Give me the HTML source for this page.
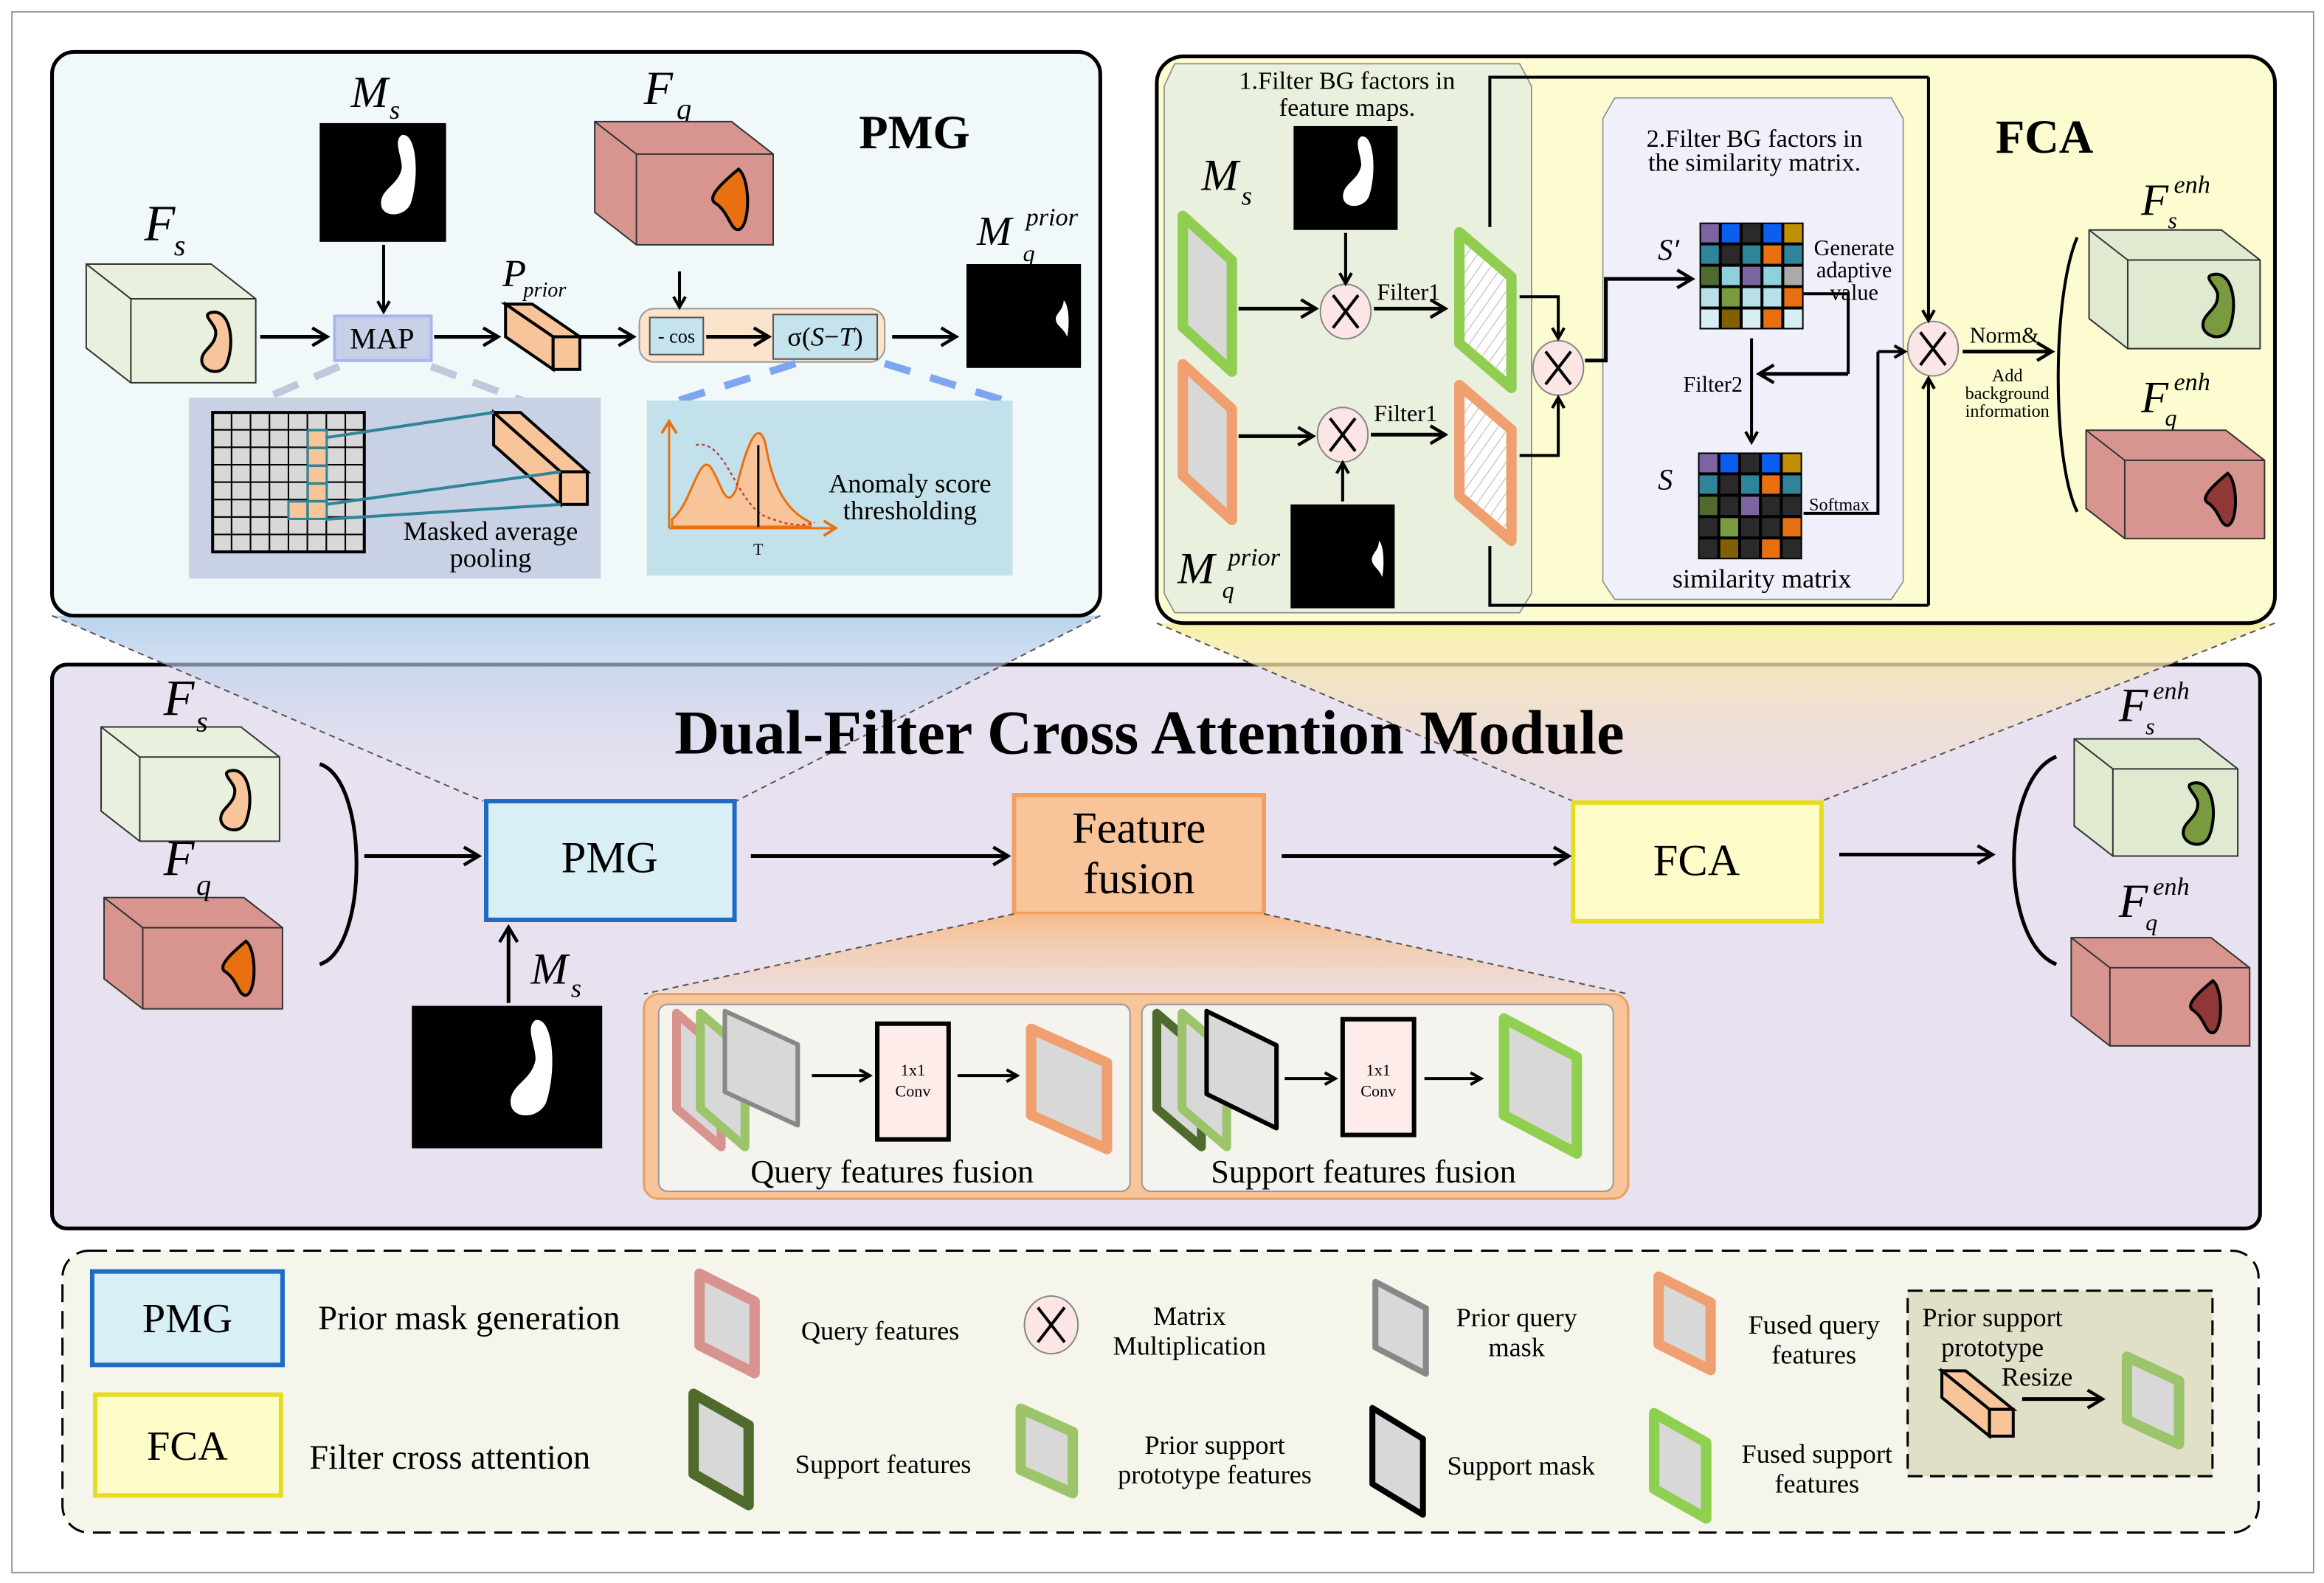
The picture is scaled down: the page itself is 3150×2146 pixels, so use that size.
<!DOCTYPE html>
<html><head><meta charset="utf-8"><style>
html,body{margin:0;padding:0;background:#fff}
svg{display:block}
text{font-family:"Liberation Serif",serif;fill:#000}
.it{font-style:italic}
</style></head><body>
<svg id="s" width="3150" height="2146" viewBox="0 0 1563 1067" preserveAspectRatio="none" xmlns="http://www.w3.org/2000/svg">
<defs>
<marker id="ar" markerWidth="10" markerHeight="10" refX="8" refY="5" orient="auto" markerUnits="userSpaceOnUse"><path d="M1,1 L8,5 L1,9" fill="none" stroke="#000" stroke-width="2"/></marker>
<marker id="arb" markerWidth="14" markerHeight="14" refX="11" refY="7" orient="auto" markerUnits="userSpaceOnUse"><path d="M1,1 L11,7 L1,13" fill="none" stroke="#000" stroke-width="2.2"/></marker>
<marker id="aro" markerWidth="12" markerHeight="12" refX="9" refY="6" orient="auto" markerUnits="userSpaceOnUse"><path d="M1,1 L9,6 L1,11" fill="none" stroke="#e87010" stroke-width="1.8"/></marker>
<pattern id="hatch" width="6" height="6" patternUnits="userSpaceOnUse" patternTransform="rotate(35)"><rect width="6" height="6" fill="#fff"/><line x1="0" y1="0" x2="0" y2="6" stroke="#ccc" stroke-width="1.5"/></pattern>
<linearGradient id="gb" x1="0" y1="0" x2="0" y2="1"><stop offset="0" stop-color="#a8c8e8" stop-opacity="0.8"/><stop offset="1" stop-color="#e8e2f0" stop-opacity="0.2"/></linearGradient>
<linearGradient id="gy" x1="0" y1="0" x2="0" y2="1"><stop offset="0" stop-color="#f8f0a0" stop-opacity="0.9"/><stop offset="1" stop-color="#f0d0d8" stop-opacity="0.3"/></linearGradient>
<linearGradient id="go" x1="0" y1="0" x2="0" y2="1"><stop offset="0" stop-color="#f8b880" stop-opacity="0.9"/><stop offset="1" stop-color="#f8d0b0" stop-opacity="0.3"/></linearGradient>
</defs>
<rect x="8" y="8" width="1548" height="1052" fill="#fff" stroke="#999" stroke-width="1"/>

<rect x="35" y="448" width="1485" height="380" rx="10" fill="#e8e2f0" stroke="#000" stroke-width="2.5"/>
<polygon points="35,415 740,415 495,540 325,540" fill="url(#gb)"/>
<polygon points="778,420 1530,420 1225,540 1058,540" fill="url(#gy)"/>
<line x1="35" y1="415" x2="325" y2="540" stroke="#555" stroke-width="1" stroke-dasharray="4,3"/>
<line x1="740" y1="415" x2="495" y2="540" stroke="#555" stroke-width="1" stroke-dasharray="4,3"/>
<line x1="778" y1="420" x2="1058" y2="540" stroke="#555" stroke-width="1" stroke-dasharray="4,3"/>
<line x1="1530" y1="420" x2="1225" y2="540" stroke="#555" stroke-width="1" stroke-dasharray="4,3"/>

<rect x="35" y="35" width="705" height="380" rx="15" fill="#f0f8fa" stroke="#000" stroke-width="2.5"/>
<rect x="778" y="38" width="752" height="382" rx="18" fill="#fdfbd0" stroke="#000" stroke-width="2.5"/>
<path d="M790,43 L1022,43 L1030,58 L1030,400 L1022,413 L790,413 L783,400 L783,58 Z" fill="#e9f0dd" stroke="#888" stroke-width="0.8"/>
<path d="M1086,66 L1272,66 L1280,80 L1280,392 L1272,404 L1086,404 L1078,392 L1078,80 Z" fill="#f0f0fa" stroke="#888" stroke-width="0.8"/>

<text x="615" y="100" font-size="32" font-weight="bold" text-anchor="middle">PMG</text>
<text x="97" y="162" font-size="34" class="it">F</text><text x="117" y="172" font-size="20" class="it">s</text>
<text x="236" y="72" font-size="30" class="it">M</text><text x="262" y="80" font-size="18" class="it">s</text>
<text x="433" y="70" font-size="32" class="it">F</text><text x="455" y="80" font-size="20" class="it">q</text>
<text x="338" y="193" font-size="26" class="it">P</text><text x="352" y="200" font-size="14" class="it">prior</text>
<text x="657" y="165" font-size="28" class="it">M</text><text x="690" y="152" font-size="17" class="it">prior</text><text x="688" y="176" font-size="16" class="it">q</text>
<rect x="225" y="213" width="65" height="30" fill="#c8d0e8" stroke="#aab4f0" stroke-width="2"/>
<text x="257" y="235" font-size="20" text-anchor="middle">MAP</text>
<rect x="430" y="208" width="165" height="36" rx="10" fill="#fbe3cc" stroke="#999" stroke-width="1"/>
<rect x="437" y="214" width="36" height="25" fill="#c5e3ec" stroke="#555" stroke-width="1"/>
<text x="455" y="231" font-size="13" text-anchor="middle">- cos</text>
<rect x="520" y="212" width="70" height="30" fill="#c5e3ec" stroke="#555" stroke-width="1"/>
<text x="555" y="233" font-size="18" text-anchor="middle">σ(<tspan class="it">S</tspan>−<tspan class="it">T</tspan>)</text>
<line x1="228" y1="247" x2="140" y2="285" stroke="#c0c8dc" stroke-width="5" stroke-dasharray="18,12"/>
<line x1="290" y1="247" x2="378" y2="280" stroke="#c0c8dc" stroke-width="5" stroke-dasharray="18,12"/>
<line x1="535" y1="245" x2="450" y2="272" stroke="#7ea6f0" stroke-width="5" stroke-dasharray="18,14"/>
<line x1="595" y1="245" x2="682" y2="272" stroke="#7ea6f0" stroke-width="5" stroke-dasharray="18,14"/>
<rect x="127" y="268" width="277" height="122" fill="#c9d2e5"/>
<rect x="435" y="270" width="246" height="118" fill="#c3e1ea"/>
<text x="330" y="364" font-size="18" text-anchor="middle">Masked average</text>
<text x="330" y="382" font-size="18" text-anchor="middle">pooling</text>
<text x="612" y="332" font-size="18" text-anchor="middle">Anomaly score</text>
<text x="612" y="350" font-size="18" text-anchor="middle">thresholding</text>
<text x="510" y="374" font-size="11" text-anchor="middle">T</text>

<text x="1375" y="103" font-size="32" font-weight="bold" text-anchor="middle">FCA</text>
<text x="906" y="60" font-size="17" text-anchor="middle">1.Filter BG factors in</text>
<text x="906" y="78" font-size="17" text-anchor="middle">feature maps.</text>
<text x="1180" y="99" font-size="17" text-anchor="middle">2.Filter BG factors in</text>
<text x="1180" y="115" font-size="17" text-anchor="middle">the similarity matrix.</text>
<text x="808" y="128" font-size="30" class="it">M</text><text x="835" y="138" font-size="18" class="it">s</text>
<text x="792" y="393" font-size="30" class="it">M</text><text x="826" y="381" font-size="17" class="it">prior</text><text x="822" y="403" font-size="16" class="it">q</text>
<text x="926" y="202" font-size="16">Filter1</text>
<text x="924" y="284" font-size="16">Filter1</text>
<text x="1115" y="175" font-size="20" class="it">S′</text>
<text x="1115" y="330" font-size="20" class="it">S</text>
<text x="1247" y="172" font-size="15" text-anchor="middle">Generate</text>
<text x="1247" y="187" font-size="15" text-anchor="middle">adaptive</text>
<text x="1247" y="202" font-size="15" text-anchor="middle">value</text>
<text x="1152" y="264" font-size="15" text-anchor="middle">Filter2</text>
<text x="1237" y="344" font-size="12" text-anchor="middle">Softmax</text>
<text x="1185" y="396" font-size="18" text-anchor="middle">similarity matrix</text>
<text x="1348" y="231" font-size="15" text-anchor="middle">Norm&amp;</text>
<text x="1350" y="257" font-size="12" text-anchor="middle">Add</text>
<text x="1350" y="269" font-size="12" text-anchor="middle">background</text>
<text x="1350" y="281" font-size="12" text-anchor="middle">information</text>
<text x="1440" y="145" font-size="30" class="it">F</text><text x="1462" y="130" font-size="17" class="it">enh</text><text x="1458" y="154" font-size="16" class="it">s</text>
<text x="1440" y="278" font-size="30" class="it">F</text><text x="1462" y="263" font-size="17" class="it">enh</text><text x="1456" y="287" font-size="16" class="it">q</text>

<text x="773" y="508" font-size="42" font-weight="bold" text-anchor="middle">Dual-Filter Cross Attention Module</text>
<rect x="327" y="540" width="167" height="80" fill="#d8eff5" stroke="#1e6bc4" stroke-width="3"/>
<text x="410" y="588" font-size="30" text-anchor="middle">PMG</text>
<text x="357" y="663" font-size="30" class="it">M</text><text x="384" y="672" font-size="18" class="it">s</text>
<rect x="682" y="536" width="168" height="80" fill="#f8c49a" stroke="#f0a060" stroke-width="3"/>
<text x="766" y="568" font-size="30" text-anchor="middle">Feature</text>
<text x="766" y="602" font-size="30" text-anchor="middle">fusion</text>
<rect x="1058" y="541" width="167" height="80" fill="#fefcc8" stroke="#e8dc20" stroke-width="3"/>
<text x="1141" y="590" font-size="30" text-anchor="middle">FCA</text>
<polygon points="682,616 850,616 1095,670 433,670" fill="url(#go)"/>
<line x1="682" y1="616" x2="433" y2="670" stroke="#555" stroke-width="1" stroke-dasharray="4,3"/>
<line x1="850" y1="616" x2="1095" y2="670" stroke="#555" stroke-width="1" stroke-dasharray="4,3"/>
<rect x="433" y="670" width="662" height="138" rx="10" fill="#f8c49a" stroke="#e8a060" stroke-width="1.5"/>
<rect x="443" y="677" width="317" height="126" rx="6" fill="#f5f3ee" stroke="#999" stroke-width="1"/>
<rect x="768" y="677" width="317" height="126" rx="6" fill="#f5f3ee" stroke="#999" stroke-width="1"/>
<text x="600" y="797" font-size="22" text-anchor="middle">Query features fusion</text>
<text x="917" y="797" font-size="22" text-anchor="middle">Support features fusion</text>
<rect x="590" y="690" width="48" height="78" fill="#fdecea" stroke="#000" stroke-width="3"/>
<text x="614" y="725" font-size="11" text-anchor="middle">1x1</text><text x="614" y="739" font-size="11" text-anchor="middle">Conv</text>
<rect x="903" y="687" width="48" height="78" fill="#fdecea" stroke="#000" stroke-width="3"/>
<text x="927" y="725" font-size="11" text-anchor="middle">1x1</text><text x="927" y="739" font-size="11" text-anchor="middle">Conv</text>

<rect x="42" y="843" width="1477" height="190" rx="18" fill="#f5f5ec" stroke="#000" stroke-width="1.5" stroke-dasharray="12,6"/>
<rect x="62" y="857" width="128" height="63" fill="#d8eff5" stroke="#1e6bc4" stroke-width="3"/>
<text x="126" y="898" font-size="28" text-anchor="middle">PMG</text>
<text x="214" y="896" font-size="23">Prior mask generation</text>
<rect x="64" y="940" width="125" height="68" fill="#fefcc8" stroke="#e8dc20" stroke-width="3"/>
<text x="126" y="984" font-size="28" text-anchor="middle">FCA</text>
<text x="208" y="990" font-size="23">Filter cross attention</text>
<text x="592" y="903" font-size="18" text-anchor="middle">Query features</text>
<text x="594" y="993" font-size="18" text-anchor="middle">Support features</text>
<text x="800" y="893" font-size="18" text-anchor="middle">Matrix</text>
<text x="800" y="913" font-size="18" text-anchor="middle">Multiplication</text>
<text x="817" y="980" font-size="18" text-anchor="middle">Prior support</text>
<text x="817" y="1000" font-size="18" text-anchor="middle">prototype features</text>
<text x="1020" y="894" font-size="18" text-anchor="middle">Prior query</text>
<text x="1020" y="914" font-size="18" text-anchor="middle">mask</text>
<text x="1023" y="994" font-size="18" text-anchor="middle">Support mask</text>
<text x="1220" y="899" font-size="18" text-anchor="middle">Fused query</text>
<text x="1220" y="919" font-size="18" text-anchor="middle">features</text>
<text x="1222" y="986" font-size="18" text-anchor="middle">Fused support</text>
<text x="1222" y="1006" font-size="18" text-anchor="middle">features</text>
<rect x="1283" y="870" width="205" height="125" fill="#e0e0c8" stroke="#000" stroke-width="1.5" stroke-dasharray="10,5"/>
<text x="1340" y="894" font-size="18" text-anchor="middle">Prior support</text>
<text x="1340" y="914" font-size="18" text-anchor="middle">prototype</text>
<text x="1370" y="934" font-size="18" text-anchor="middle">Resize</text>
<g id="dyn"></g>
<!-- main panel labels on top -->
<text x="110" y="482" font-size="34" class="it">F</text><text x="132" y="493" font-size="20" class="it">s</text>
<text x="110" y="590" font-size="34" class="it">F</text><text x="132" y="603" font-size="20" class="it">q</text>
<text x="1425" y="486" font-size="32" class="it">F</text><text x="1448" y="471" font-size="17" class="it">enh</text><text x="1443" y="495" font-size="16" class="it">s</text>
<text x="1425" y="618" font-size="32" class="it">F</text><text x="1448" y="603" font-size="17" class="it">enh</text><text x="1443" y="627" font-size="16" class="it">q</text>
</svg>
<script>
const NS="http://www.w3.org/2000/svg",G=document.getElementById('dyn');
function el(t,a){const e=document.createElementNS(NS,t);for(const k in a)e.setAttribute(k,a[k]);G.appendChild(e);return e;}
function arrow(pts,big){return el('polyline',{points:pts,fill:'none',stroke:'#000','stroke-width':big?2.5:2,'marker-end':big?'url(#arb)':'url(#ar)'});}
function line(pts,w){return el('polyline',{points:pts,fill:'none',stroke:'#000','stroke-width':w||2});}
function cube(x,y,w,h,d,fill,blob,bfill){const dy=d*0.78;
 el('polygon',{points:`${x},${y} ${x+w-d},${y} ${x+w},${y+dy} ${x+w},${y+h} ${x+d},${y+h} ${x},${y+h-dy}`,fill:fill,stroke:'#333','stroke-width':1});
 el('polyline',{points:`${x},${y} ${x+d},${y+dy} ${x+w},${y+dy}`,fill:'none',stroke:'#333','stroke-width':1});
 el('line',{x1:x+d,y1:y+dy,x2:x+d,y2:y+h,stroke:'#333','stroke-width':1});
 const cx=x+d+(w-d)*0.68,cy=y+dy+(h-dy)*0.5,s=(h-dy)/60;
 if(blob==='bean')el('path',{d:`M${cx-4*s},${cy-20*s} C${cx+10*s},${cy-24*s} ${cx+14*s},${cy} ${cx+8*s},${cy+16*s} C${cx+4*s},${cy+26*s} ${cx-10*s},${cy+22*s} ${cx-10*s},${cy+14*s} C${cx-10*s},${cy+6*s} ${cx}, ${cy+4*s} ${cx},${cy-6*s} C${cx},${cy-12*s} ${cx-10*s},${cy-18*s} ${cx-4*s},${cy-20*s} Z`,fill:bfill,stroke:'#000','stroke-width':2});
 else el('path',{d:`M${cx+6*s},${cy-20*s} C${cx+14*s},${cy-14*s} ${cx+14*s},${cy+18*s} ${cx+6*s},${cy+20*s} C${cx},${cy+20*s} ${cx},${cy+8*s} ${cx-10*s},${cy+2*s} C${cx-14*s},${cy-2*s} ${cx-6*s},${cy-10*s} ${cx+6*s},${cy-20*s} Z`,fill:bfill,stroke:'#000','stroke-width':2});
}
function mask(x,y,w,h,kind){el('rect',{x:x,y:y,width:w,height:h,fill:'#000'});const cx=x+w*0.65,cy=y+h*0.45,s=h/80;
 if(kind==='bean')el('path',{d:`M${cx},${cy-28*s} C${cx+10*s},${cy-30*s} ${cx+12*s},${cy} ${cx+6*s},${cy+18*s} C${cx+2*s},${cy+28*s} ${cx-14*s},${cy+28*s} ${cx-14*s},${cy+18*s} C${cx-14*s},${cy+8*s} ${cx-2*s},${cy+6*s} ${cx},${cy-6*s} C${cx},${cy-14*s} ${cx-6*s},${cy-24*s} ${cx},${cy-28*s} Z`,fill:'#fff'});
 else el('path',{d:`M${x+w*0.85},${y+h*0.35} C${x+w*0.9},${y+h*0.4} ${x+w*0.9},${y+h*0.6} ${x+w*0.88},${y+h*0.7} C${x+w*0.84},${y+h*0.6} ${x+w*0.78},${y+h*0.6} ${x+w*0.78},${y+h*0.52} C${x+w*0.8},${y+h*0.45} ${x+w*0.84},${y+h*0.45} ${x+w*0.85},${y+h*0.35}Z`,fill:'#fff'});
}
function frame(x,y,w,h,col,sw,fill){const s=h*0.3;el('polygon',{points:`${x+sw/2},${y+sw/2} ${x+w-sw/2},${y+s} ${x+w-sw/2},${y+h-sw/2} ${x+sw/2},${y+h-s}`,fill:fill||'#d8d8d8',stroke:col,'stroke-width':sw,'stroke-linejoin':'round'});}
function otimes(cx,cy,r){el('ellipse',{cx:cx,cy:cy,rx:r,ry:r*1.08,fill:'#fbe5e5',stroke:'#888','stroke-width':1});const k=r*0.5;
 el('line',{x1:cx-k,y1:cy-k*1.3,x2:cx+k,y2:cy+k*1.3,stroke:'#000','stroke-width':2});el('line',{x1:cx+k,y1:cy-k*1.3,x2:cx-k,y2:cy+k*1.3,stroke:'#000','stroke-width':2});}
function prism(fx,fy,fw,fh,vx,vy,fill){
 el('polygon',{points:`${fx},${fy} ${fx+fw},${fy} ${fx+fw-vx},${fy-vy} ${fx-vx},${fy-vy}`,fill:fill,stroke:'#000','stroke-width':2});
 el('polygon',{points:`${fx},${fy} ${fx},${fy+fh} ${fx-vx},${fy+fh-vy} ${fx-vx},${fy-vy}`,fill:fill,stroke:'#000','stroke-width':2});
 el('rect',{x:fx,y:fy,width:fw,height:fh,fill:fill,stroke:'#000','stroke-width':2});}
function matrix(x,y,cols){const cw=14,ch=14.4;el('rect',{x:x,y:y,width:cw*5,height:ch*5,fill:'#000'});
 cols.forEach((r,i)=>r.forEach((c,j)=>el('rect',{x:x+j*cw+1,y:y+i*ch+1,width:cw-2,height:ch-2,fill:c})));}

cube(58,178,114,80,30,'#e9f0dd','bean','#f8c49a');
mask(215,83,85,80,'bean');
cube(400,82,120,83,28,'#d89590','drop','#e87010');
mask(650,178,77,70,'small');
prism(372,227,18,22,32,22,'#f8c49a');
arrow('258,165 258,210');arrow('175,227 220,227',1);arrow('292,227 335,227',1);arrow('390,227 426,227',1);
arrow('457,183 457,207');arrow('475,227 517,227',1);arrow('600,227 643,227',1);
for(let i=0;i<8;i++)for(let j=0;j<8;j++)el('rect',{x:143+j*12.75,y:278+i*11.75,width:12.75,height:11.75,fill:'#d8d8d8',stroke:'#000','stroke-width':1});
el('rect',{x:143,y:278,width:102,height:94,fill:'none',stroke:'#000','stroke-width':2});
[[207,290],[207,302],[207,314],[207,326],[194,338],[207,338]].forEach(p=>el('rect',{x:p[0],y:p[1],width:12.75,height:11.75,fill:'#f8c49a',stroke:'#2e8499','stroke-width':1.5}));
prism(377,318,18,22,45,40,'#f8c49a');
[line('219,295 332,278'),line('219,340 377,318'),line('219,350 377,340')].forEach(p=>p.setAttribute('stroke','#2e8499'));
el('path',{d:'M452,350 C465,340 470,305 478,315 C485,325 488,345 495,330 C502,300 510,280 515,300 C520,330 530,345 545,352 L545,355 L452,355Z',fill:'#f8c49a',stroke:'#e87010','stroke-width':1.5});
el('path',{d:'M468,300 C490,295 495,345 520,350 C530,354 540,355 548,352',fill:'none',stroke:'#c04040','stroke-width':1.2,'stroke-dasharray':'2,2'});
el('line',{x1:510,y1:300,x2:510,y2:356,stroke:'#000','stroke-width':1.5});
el('polyline',{points:'450,356 450,284',fill:'none',stroke:'#e87010','stroke-width':1.5,'marker-end':'url(#aro)'});
el('polyline',{points:'450,356 562,356',fill:'none',stroke:'#e87010','stroke-width':1.5,'marker-end':'url(#aro)'});

mask(870,85,70,70,'bean');mask(868,340,70,70,'small');
frame(792,142,40,112,'#8fce50',7);frame(792,242,40,112,'#f0a070',7);
frame(978,153,42,112,'#8fce50',7,'url(#hatch)');frame(978,256,42,112,'#f0a070',7,'url(#hatch)');
otimes(905,210,17);otimes(903,293,17);otimes(1048,248,17);otimes(1300,235,17);
arrow('833,208 885,208',1);arrow('833,294 883,294',1);arrow('905,157 905,191');arrow('903,338 903,312');
arrow('924,208 972,208',1);arrow('922,293 972,293',1);
arrow('1022,200 1048,200 1048,228');arrow('1022,307 1048,307 1048,268');
line('1002,153 1002,52 1297,52 ');arrow('1297,52 1297,216');
line('1002,368 1002,408 1297,408 ');arrow('1297,408 1297,255');
arrow('1066,243 1080,243 1080,188 1138,188',1);
matrix(1143,150,[['#7b64a0','#0a5ff0','#2a2a2a','#0a5ff0','#c09000'],['#2e8499','#2a2a2a','#2e8499','#e87010','#2e8499'],['#4e6a2d','#8fd0dc','#7b64a0','#8fd0dc','#aaa'],['#b8e0e8','#7a9a40','#b8e0e8','#b8e0e8','#e87010'],['#d8eef2','#806000','#d8eef2','#e87010','#d8eef2']]);
matrix(1142,305,[['#7b64a0','#0a5ff0','#2a2a2a','#0a5ff0','#c09000'],['#2e8499','#2a2a2a','#2e8499','#e87010','#2e8499'],['#4e6a2d','#2a2a2a','#7b64a0','#2a2a2a','#2a2a2a'],['#2a2a2a','#7a9a40','#2a2a2a','#2a2a2a','#e87010'],['#2a2a2a','#806000','#2a2a2a','#e87010','#2a2a2a']]);
arrow('1178,228 1178,298');line('1213,198 1243,198 1243,252 ');arrow('1243,252 1183,252',1);
line('1213,346 1263,346 1263,237');arrow('1263,237 1281,237');
arrow('1320,237 1380,237',1);
el('path',{d:'M1397,160 C1380,200 1380,310 1397,345',fill:'none',stroke:'#000','stroke-width':2});
cube(1405,155,115,80,26,'#e0ead0','bean','#7a9a40');
cube(1403,290,120,73,26,'#d89590','drop','#903838');

cube(68,490,120,77,26,'#e9f0dd','bean','#f8c49a');
cube(70,605,120,75,26,'#d89590','drop','#e87010');
el('path',{d:'M215,515 C248,525 248,640 215,650',fill:'none',stroke:'#000','stroke-width':2.5});
arrow('245,577 322,577',1);mask(277,678,128,96,'bean');arrow('342,676 342,625',1);
arrow('505,577 678,577',1);arrow('862,577 1055,577',1);arrow('1237,576 1340,576',1);
el('path',{d:'M1383,510 C1345,525 1345,635 1383,650',fill:'none',stroke:'#000','stroke-width':2.5});
cube(1395,498,110,79,26,'#e0ead0','bean','#7a9a40');
cube(1393,632,120,73,26,'#d89590','drop','#903838');
frame(452,680,36,96,'#d8938e',6);frame(468,680,36,96,'#9cc46a',6);frame(486,680,52,80,'#888',3);
arrow('546,725 585,725');arrow('644,725 684,725');frame(690,690,58,88,'#f0a070',7);
frame(775,680,36,96,'#4e6a2d',6);frame(792,680,36,96,'#9cc46a',6);frame(810,680,50,82,'#000',3);
arrow('864,727 898,727');arrow('958,727 996,727');frame(1008,683,56,98,'#8fd050',7);

frame(467,855,44,74,'#d8938e',7);frame(463,936,44,82,'#4e6a2d',7);
otimes(707,893,18);frame(683,946,42,64,'#9cc46a',7);
frame(923,862,38,66,'#888',4);frame(921,947,38,76,'#000',4);
frame(1112,857,42,70,'#f0a070',7);frame(1109,949,42,78,'#8fd050',7);
prism(1338,950,16,18,32,26,'#f8c49a');arrow('1360,943 1414,943',1);frame(1427,911,42,66,'#9cc46a',7);
</script>
</body></html>
